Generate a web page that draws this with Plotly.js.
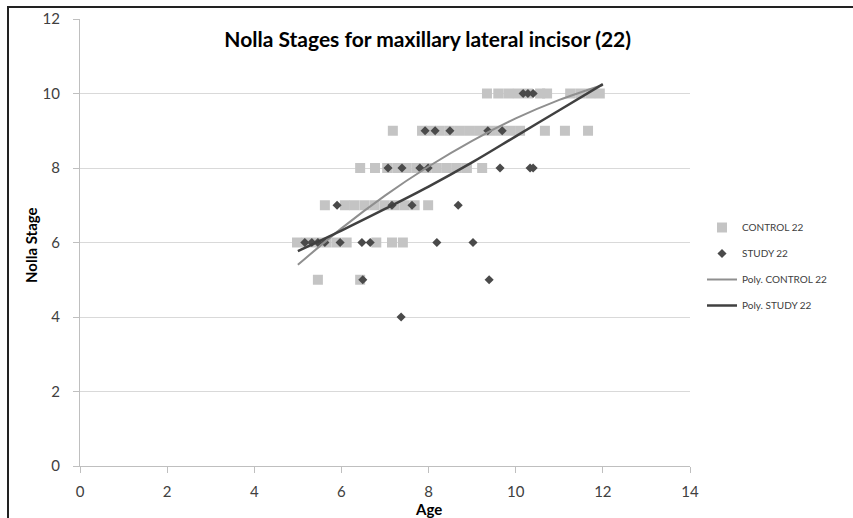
<!DOCTYPE html>
<html>
<head>
<meta charset="utf-8">
<script src="https://cdn.plot.ly/plotly-3.0.1.min.js"></script>
<style>html,body{margin:0;padding:0;background:#fff;}#chart{width:853px;height:518px;}</style>
</head>
<body>
<div id="chart"></div>
<script>
// CONTROL 22 (age, Nolla stage)
const controlAge = [
  9.34, 9.6, 9.83, 10.05, 10.28, 10.56, 10.72, 11.25, 11.48, 11.71, 11.93,
  7.18, 7.85, 8.05, 8.26, 8.49, 8.72, 8.95, 9.18, 9.41, 9.64, 9.87, 10.1, 10.67, 11.13, 11.66,
  6.43, 6.77, 7.05, 7.28, 7.5, 7.73, 7.96, 8.19, 8.42, 8.65, 8.88, 9.23,
  5.62, 6.08, 6.3, 6.53, 6.76, 6.99, 7.22, 7.45, 7.68, 7.99,
  4.98, 5.2, 5.43, 5.66, 5.89, 6.12, 6.8, 7.16, 7.41,
  5.46, 6.43
];
const controlStage = [
  10, 10, 10, 10, 10, 10, 10, 10, 10, 10, 10,
  9, 9, 9, 9, 9, 9, 9, 9, 9, 9, 9, 9, 9, 9, 9,
  8, 8, 8, 8, 8, 8, 8, 8, 8, 8, 8, 8,
  7, 7, 7, 7, 7, 7, 7, 7, 7, 7,
  6, 6, 6, 6, 6, 6, 6, 6, 6,
  5, 5
];
// STUDY 22 (age, Nolla stage)
const studyAge = [
  10.17, 10.28, 10.4,
  7.92, 8.15, 8.49, 9.36, 9.69,
  7.07, 7.39, 7.8, 7.99, 9.64, 10.33, 10.4,
  5.9, 7.16, 7.62, 8.68,
  5.16, 5.32, 5.46, 5.62, 5.97, 6.47, 6.66, 8.19, 9.02,
  6.49, 9.39,
  7.37
];
const studyStage = [
  10, 10, 10,
  9, 9, 9, 9, 9,
  8, 8, 8, 8, 8, 8, 8,
  7, 7, 7, 7,
  6, 6, 6, 6, 6, 6, 6, 6, 6,
  5, 5,
  4
];
// Polynomial trendlines
const trendAge = [5, 6, 7, 8, 9, 10, 11, 12];
const polyControl = [5.4, 6.38, 7.26, 8.04, 8.73, 9.33, 9.83, 10.23];
const polyStudy = [5.77, 6.32, 6.9, 7.5, 8.15, 8.85, 9.55, 10.25];
const xTicks = [0, 2, 4, 6, 8, 10, 12, 14];
const yTicks = [0, 2, 4, 6, 8, 10, 12];

const FONT = 'Lato, "Open Sans", sans-serif';
const traces = [
  {x: controlAge, y: controlStage, name: 'CONTROL 22', type: 'scatter', mode: 'markers',
   legendgroup: 'a',
   marker: {symbol: 'square', size: 10, color: '#c4c4c4'}},
  {x: studyAge, y: studyStage, name: 'STUDY 22', type: 'scatter', mode: 'markers',
   legendgroup: 'b',
   marker: {symbol: 'diamond', size: 7, color: '#4a4a4a'}},
  {x: trendAge, y: polyControl, name: 'Poly. CONTROL 22', type: 'scatter', mode: 'lines',
   legendgroup: 'c',
   line: {color: '#8f8f8f', width: 2, shape: 'spline'}},
  {x: trendAge, y: polyStudy, name: 'Poly. STUDY 22', type: 'scatter', mode: 'lines',
   legendgroup: 'd',
   line: {color: '#404040', width: 2.5, shape: 'spline'}}
];

const layout = {
  width: 853, height: 518,
  margin: {l: 80, r: 163, t: 19, b: 52},
  paper_bgcolor: '#ffffff', plot_bgcolor: '#ffffff',
  font: {family: FONT, size: 13, color: '#404040'},
  title: {text: '<b>Nolla Stages for maxillary lateral incisor (22)</b>',
          font: {family: FONT, size: 21, color: '#000000'},
          x: 0.57, xref: 'paper', xanchor: 'center', y: 1 - 40/518, yref: 'container', yanchor: 'middle'},
  xaxis: {range: [0, 14], tickvals: xTicks, ticktext: xTicks.map(String),
          showgrid: false, zeroline: false, showline: true, linecolor: '#bfbfbf', linewidth: 1,
          ticks: 'outside', ticklen: 6, tickcolor: '#bfbfbf', ticklabelstandoff: 6,
          tickfont: {family: FONT, size: 15, color: '#404040'}, fixedrange: true},
  yaxis: {range: [0, 12], tickvals: yTicks, ticktext: yTicks.map(String),
          showgrid: true, gridcolor: '#d9d9d9', gridwidth: 1, zeroline: false,
          showline: true, linecolor: '#bfbfbf', linewidth: 1,
          ticks: 'outside', ticklen: 6, tickcolor: '#bfbfbf', ticklabelstandoff: 10,
          tickfont: {family: FONT, size: 15, color: '#404040'}, fixedrange: true},
  showlegend: true,
  legend: {x: (702 - 80) / 610, xanchor: 'left', y: (466 - 213) / 447, yanchor: 'top',
           font: {family: FONT, size: 10, color: '#404040'}, tracegroupgap: 7,
           bgcolor: 'rgba(0,0,0,0)', itemwidth: 30},
  annotations: [
    {text: '<b>Age</b>', xref: 'paper', yref: 'paper', x: (428 - 80) / 610, y: -(509 - 466) / 447,
     xanchor: 'center', yanchor: 'middle', showarrow: false,
     font: {family: FONT, size: 15, color: '#000000'}},
    {text: '<b>Nolla Stage</b>', xref: 'paper', yref: 'paper', x: (31 - 80) / 610, y: (466 - 245) / 447,
     xanchor: 'center', yanchor: 'middle', showarrow: false, textangle: -90,
     font: {family: FONT, size: 15, color: '#000000'}}
  ],
  shapes: [
    {type: 'rect', xref: 'paper', yref: 'paper',
     x0: (8 - 80) / 610, x1: (900 - 80) / 610, y0: -(560 - 466) / 447, y1: 1 + (19 - 7) / 447,
     line: {color: '#222222', width: 2}, fillcolor: 'rgba(0,0,0,0)', layer: 'above'}
  ]
};

Plotly.newPlot('chart', traces, layout, {displayModeBar: false, staticPlot: true});
</script>
</body>
</html>
